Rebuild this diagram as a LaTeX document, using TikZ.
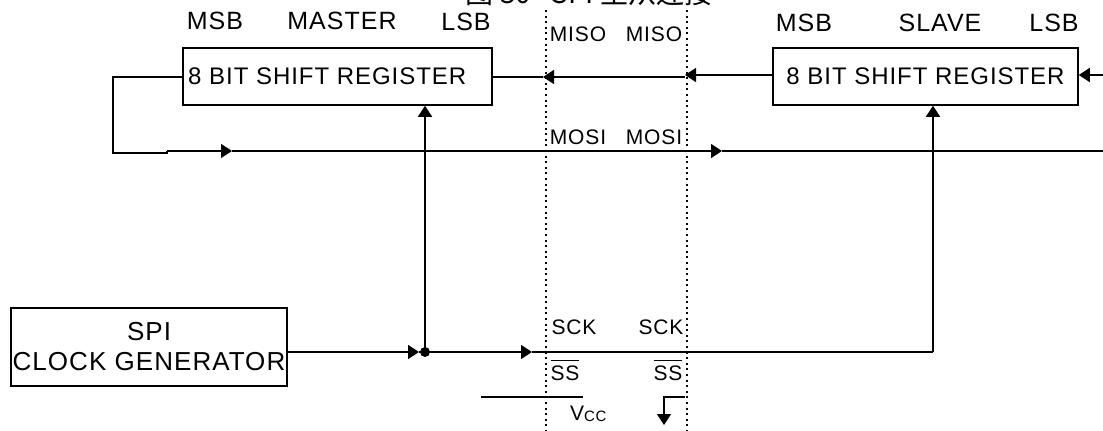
\documentclass[tikz,border=0pt]{standalone}
\usepackage{fontspec}
\setmainfont{Liberation Sans}
\newfontfamily\cjk{Noto Sans CJK SC}
\newfontfamily\widefont[LetterSpace=4]{Liberation Sans}
\usetikzlibrary{arrows.meta}
\begin{document}
\begin{tikzpicture}[
    x=1pt, y=-1pt,
    font=\widefont\fontsize{25}{27}\selectfont,
    reg/.style={draw, line width=1.5pt, minimum height=57pt, inner sep=0pt,
                font=\widefont\fontsize{24}{26}\selectfont},
    wire/.style={line width=1.5pt},
    fwd/.style={wire, -{Triangle[length=11pt,width=14pt]}},
    seam/.style={line width=2pt, dash pattern=on 2pt off 3.6pt},
    head/.style={inner sep=0pt},
    tag/.style={inner sep=0pt, font=\widefont\fontsize{21}{23}\selectfont}
  ]
  \useasboundingbox (0,0) rectangle (1103,431);

  \node[inner sep=0pt, font=\cjk\fontsize{28}{29}\selectfont] (title) at (589,-7) {图 30 \enspace SPI 主从连接};

  \node[reg, minimum width=309pt] (mas) at (337.5,76.5) {};
  \node[inner sep=0pt, anchor=west, font=\widefont\fontsize{24}{26}\selectfont] (mastxt) at (188,76) {8 BIT SHIFT REGISTER};
  \node[reg, minimum width=305pt] (sla) at (925.5,76.5) {8 BIT SHIFT REGISTER};
  \node[draw, line width=1.5pt, minimum width=276pt, minimum height=78pt, inner sep=0pt,
        align=center, font=\widefont\fontsize{26}{30}\selectfont] (gen) at (149,347) {SPI\\CLOCK GENERATOR};

  % Register headings.
  \node[head] (msbm) at (215,21) {MSB};
  \node[head] (mast) at (342,21) {MASTER};
  \node[head] (lsbm) at (466,22) {LSB};
  \node[head] (msbs) at (804,23) {MSB};
  \node[head] (slav) at (940,23) {SLAVE};
  \node[head] (lsbs) at (1054,23) {LSB};

  % The two dotted boundaries.
  \coordinate (lt) at (546,10);
  \coordinate (lb) at (546,431);
  \coordinate (rt) at (687,10);
  \coordinate (rb) at (687,431);
  \draw[seam] (lt) -- (lb);
  \draw[seam] (rt) -- (rb);

  % Pin names.
  \node[tag] (misol) at (578,34) {MISO};
  \node[tag] (misor) at (654,34) {MISO};
  \node[tag] (mosil) at (578,137) {MOSI};
  \node[tag] (mosir) at (654,137) {MOSI};
  \node[tag] (sckl) at (574,327) {SCK};
  \node[tag] (sckr) at (661,327) {SCK};
  \node[tag, anchor=base] (ssl) at (565,380) {$\overline{\mbox{SS\rule{0pt}{18pt}}}$};
  \node[tag, anchor=base] (ssr) at (668,380) {$\overline{\mbox{SS\rule{0pt}{18pt}}}$};
  \node[tag, anchor=base west] (vcc) at (570,420) {V\raisebox{-1pt}{\fontsize{15}{15}\selectfont CC}};

  % MISO line.
  \coordinate (misoa) at (1103,75);
  \coordinate (misob) at (685,75);
  \coordinate (misoc) at (543,77);
  \draw[fwd] (misoa) -- (sla.east |- misoa);
  \draw[fwd] (sla.west |- misoa) -- (misob);
  \draw[fwd] (misob |- misoc) -- (misoc);
  \draw[wire] (misoc) -- (mas.east |- misoc);

  % MOSI line with its loop back from the master.
  \coordinate (mosia) at (113,77);
  \coordinate (mosib) at (113,153);
  \coordinate (mosic) at (167,153);
  \coordinate (mosid) at (167,151);
  \coordinate (mosie) at (232,151);
  \coordinate (mosif) at (722,151);
  \coordinate (mosig) at (1103,151);
  \draw[wire] (mas.west |- mosia) -- (mosia) -- (mosib) -- (mosic) -- (mosid);
  \draw[fwd] (mosid) -- (mosie);
  \draw[fwd] (mosie) -- (mosif);
  \draw[wire] (mosif) -- (mosig);

  % Clock line.
  \coordinate (ckm) at (425,352);
  \coordinate (cka) at (419,352);
  \coordinate (ckb) at (532,352);
  \coordinate (ckc) at (933,352);
  \draw[fwd] (gen.east |- ckm) -- (cka);
  \draw[wire] (cka) -- (ckm);
  \draw[fwd] (ckm) -- (ckb);
  \draw[wire] (ckb) -- (ckc);
  \draw[fwd] (ckc) -- (ckc |- sla.south);
  \draw[fwd] (ckm) -- (ckm |- mas.south);
  \fill (ckm) circle (5pt);

  % Slave select levels.
  \coordinate (vccl) at (481,397);
  \coordinate (vccr) at (583,397);
  \coordinate (gnda) at (685,397);
  \coordinate (gndb) at (664,397);
  \coordinate (gndc) at (664,425);
  \draw[wire] (vccl) -- (vccr);
  \draw[fwd] (gnda) -- (gndb) -- (gndc);
\end{tikzpicture}
\end{document}
